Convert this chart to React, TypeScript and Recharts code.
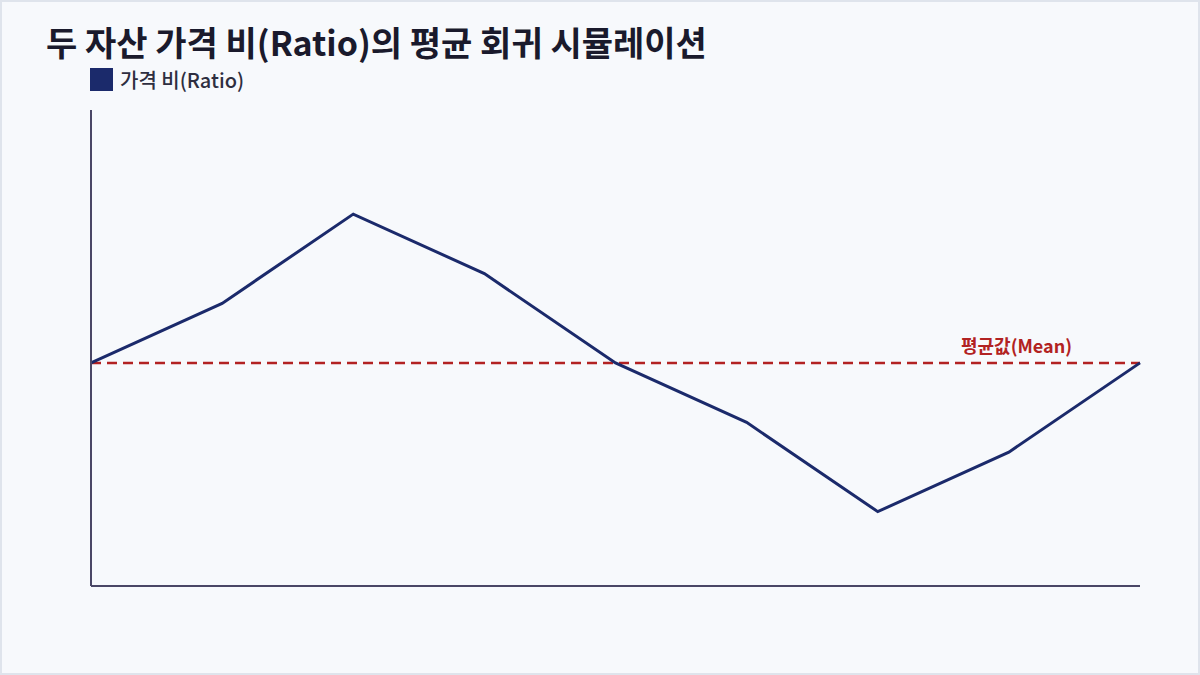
import React from 'react';
import { LineChart, Line, XAxis, YAxis, ReferenceLine } from 'recharts';

const steps = ['T0', 'T1', 'T2', 'T3', 'T4', 'T5', 'T6', 'T7', 'T8'];
const ratio = [1.0, 1.1, 1.25, 1.15, 1.0, 0.9, 0.75, 0.85, 1.0];
const meanValue = 1.0;

const data = steps.map((step, i) => ({ step, ratio: ratio[i] }));

const FONT = '"Noto Sans CJK KR", "Noto Sans", sans-serif';

const MeanLabel = (props: any) => {
  const vb = props.viewBox || {};
  return (
    <text
      x={vb.x + vb.width - 68}
      y={vb.y - 10}
      textAnchor="end"
      fill="#b22222"
      fontSize={18}
      fontWeight={600}
      fontFamily={FONT}
    >
      평균값(Mean)
    </text>
  );
};

const App: React.FC = () => {
  return (
    <div
      style={{
        position: 'absolute',
        left: 0,
        top: 0,
        width: 1200,
        height: 675,
        boxSizing: 'border-box',
        border: '2px solid #dfe4ec',
        background: '#f7f9fc',
        fontFamily: FONT,
      }}
    >
      <div
        style={{
          position: 'absolute',
          left: 44,
          top: 21,
          fontSize: 34,
          fontWeight: 700,
          color: '#1a1a2c',
          lineHeight: '38px',
          whiteSpace: 'nowrap',
        }}
      >
        두 자산 가격 비(Ratio)의 평균 회귀 시뮬레이션
      </div>
      <div
        style={{
          position: 'absolute',
          left: 88,
          top: 64,
          display: 'flex',
          alignItems: 'center',
          gap: 7,
          fontSize: 20,
          fontWeight: 500,
          lineHeight: '27px',
          color: '#2e2e40',
        }}
      >
        <span style={{ width: 23, height: 23, background: '#1b2a6b', display: 'inline-block' }} />
        <span>가격 비(Ratio)</span>
      </div>
      <div style={{ position: 'absolute', left: 0, top: 0 }}>
        <LineChart
          width={1196}
          height={671}
          data={data}
          margin={{ top: 108, right: 58, left: 88, bottom: 86 }}
        >
          <XAxis
            dataKey="step"
            tick={false}
            tickLine={false}
            height={1}
            axisLine={{ stroke: '#4a4766', strokeWidth: 2 }}
          />
          <YAxis
            type="number"
            domain={[0.625, 1.425]}
            tick={false}
            tickLine={false}
            width={1}
            axisLine={{ stroke: '#4a4766', strokeWidth: 2 }}
          />
          <ReferenceLine
            y={meanValue}
            stroke="#b22222"
            strokeWidth={2.5}
            strokeDasharray="10 6"
            label={<MeanLabel />}
          />
          <Line
            type="linear"
            dataKey="ratio"
            stroke="#1b2a6b"
            strokeWidth={3}
            dot={false}
            activeDot={false}
            isAnimationActive={false}
          />
        </LineChart>
      </div>
    </div>
  );
};

export default App;
